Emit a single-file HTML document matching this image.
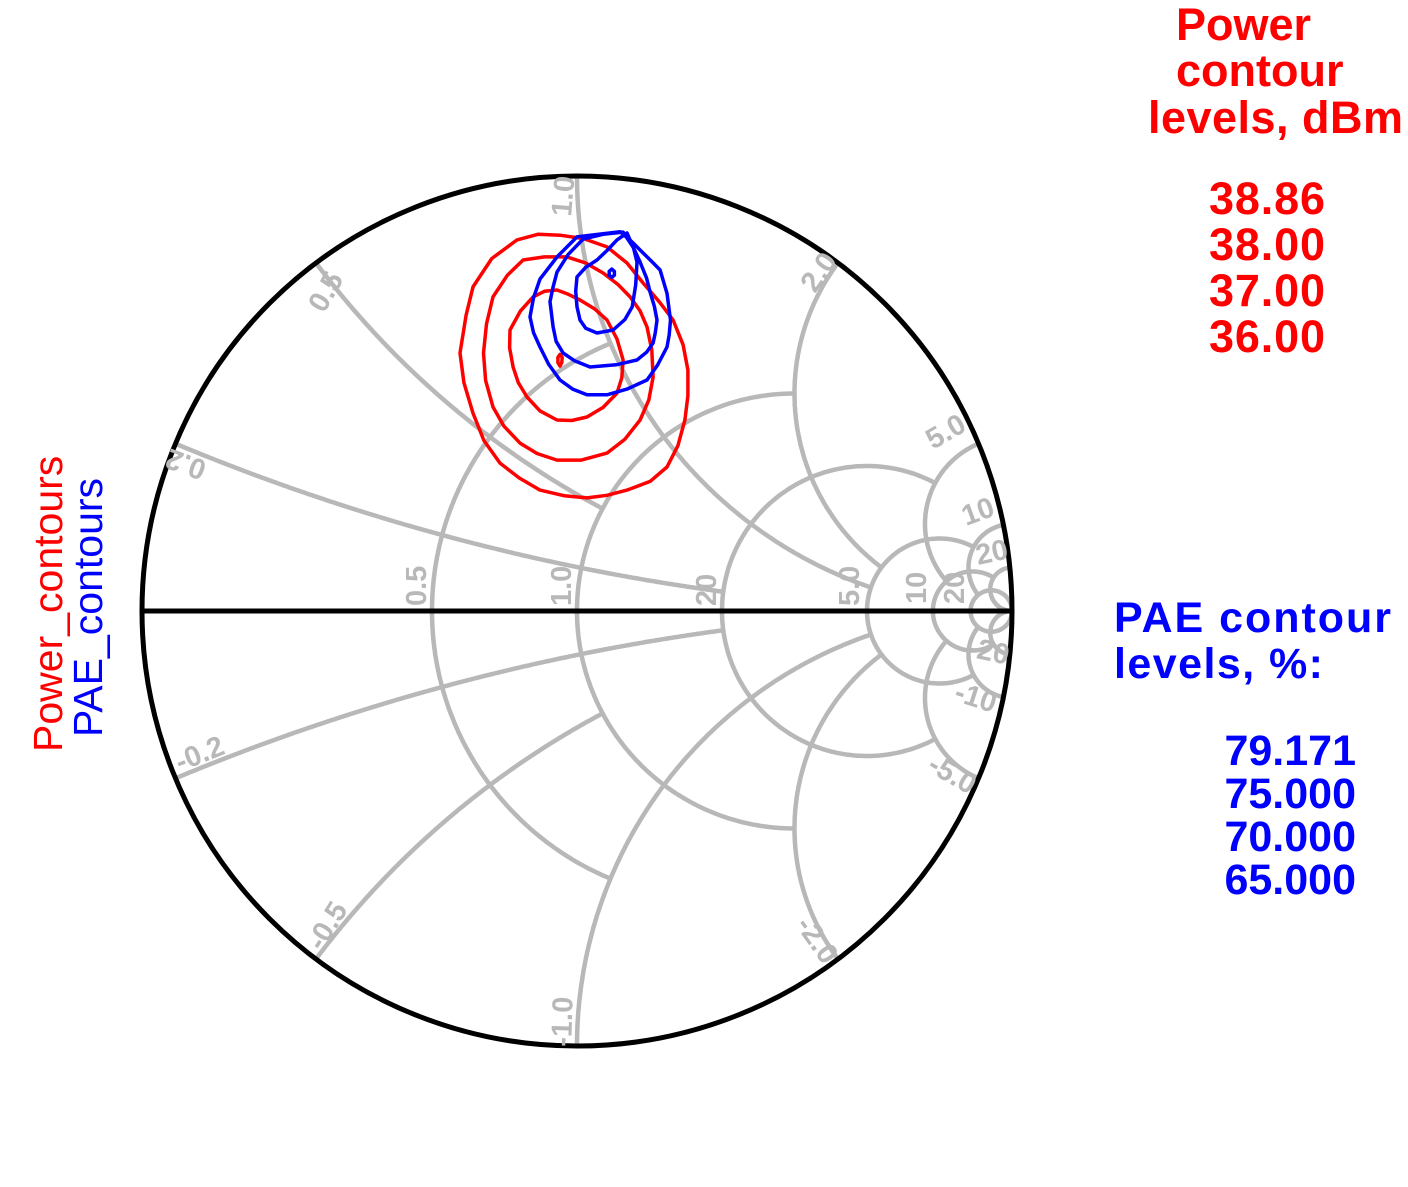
<!DOCTYPE html>
<html><head><meta charset="utf-8"><style>
html,body{margin:0;padding:0;background:#fff;}
svg{display:block;}
text{font-family:"Liberation Sans",Arial,sans-serif;}
</style></head><body>
<svg id="chart" width="1408" height="1187" viewBox="0 0 1408 1187" xmlns="http://www.w3.org/2000/svg">
<g id="grid"></g>
<g id="contours"></g>
<g id="labels" fill="#b8b8b8" font-weight="bold" font-size="29">
<text transform="translate(426,606) rotate(-90)">0.5</text>
<text transform="translate(571,606) rotate(-90)">1.0</text>
<text transform="translate(716,606) rotate(-90)">20</text>
<text transform="translate(859,606) rotate(-90)">5.0</text>
<text transform="translate(926,604) rotate(-90)">10</text>
<text transform="translate(964,604) rotate(-90)">20</text>
<text transform="translate(571,217) rotate(-85)">1.0</text>
<text transform="translate(324,314) rotate(-60)">0.5</text>
<text transform="translate(815,294) rotate(-55)">2.0</text>
<text transform="translate(933,450) rotate(-30)">5.0</text>
<text transform="translate(966,526) rotate(-20)">10</text>
<text transform="translate(978,565) rotate(-12)">20</text>
<text transform="translate(208,462) rotate(200)">0.2</text>
<text transform="translate(180,772) rotate(-22)">-0.2</text>
<text transform="translate(322,952) rotate(-58)">-0.5</text>
<text transform="translate(571,1047) rotate(-88)">-1.0</text>
<text transform="translate(795,925) rotate(55)">-2.0</text>
<text transform="translate(926,770) rotate(30)">-5.0</text>
<text transform="translate(953,700) rotate(18)">-10</text>
<text transform="translate(966,656) rotate(12)">-20</text>
</g>
<g font-size="41">
<text fill="#ff0000" transform="translate(62,752) rotate(-90)">Power_contours</text>
<text fill="#0000ff" transform="translate(102,737) rotate(-90)">PAE_contours</text>
</g>
<g fill="#ff0000" font-weight="bold" font-size="45">
<text x="1176" y="40">Power</text>
<text x="1176" y="86">contour</text>
<text x="1148" y="133" textLength="255">levels, dBm</text>
<text x="1209" y="214" textLength="116">38.86</text>
<text x="1209" y="260" textLength="116">38.00</text>
<text x="1209" y="306" textLength="116">37.00</text>
<text x="1209" y="352" textLength="116">36.00</text>
</g>
<g fill="#0000ff" font-weight="bold" font-size="43">
<text x="1114" y="632" textLength="277">PAE contour</text>
<text x="1114" y="678" textLength="209">levels, %:</text>
<text x="1356" y="765" text-anchor="end">79.171</text>
<text x="1356" y="808" text-anchor="end">75.000</text>
<text x="1356" y="851" text-anchor="end">70.000</text>
<text x="1356" y="894" text-anchor="end">65.000</text>
</g>
</svg>
<script>
// Chart geometry
const CX = 577, CY = 611, R = 435;
// Grid values
const rValues = [0.5, 1, 2, 5, 10, 20];
const rLimits = [1, 2, 5, 10, 20, 1000];
const xValues = [0.2, 0.5, 1, 2, 5, 10, 20];
const xLimits = [2, 1, 5, 5, 10, 20, 1000];
// Contour data (reflection coefficient, re/im)
const power36Re = [-0.269,-0.255,-0.239,-0.196,-0.138,-0.090,-0.039,0.015,0.069,0.115,0.152,0.190,0.221,0.244,0.255,0.255,0.248,0.232,0.207,0.168,0.115,0.069,0.023,-0.030,-0.085,-0.133,-0.177,-0.214,-0.239,-0.260];
const power36Im = [0.593,0.680,0.745,0.810,0.853,0.866,0.864,0.856,0.837,0.800,0.754,0.710,0.669,0.612,0.554,0.495,0.439,0.380,0.331,0.298,0.278,0.266,0.260,0.265,0.278,0.306,0.340,0.392,0.455,0.525];
const power37Re = [-0.215,-0.208,-0.193,-0.160,-0.124,-0.075,-0.023,0.020,0.060,0.095,0.122,0.145,0.161,0.172,0.175,0.165,0.145,0.110,0.069,0.010,-0.046,-0.092,-0.131,-0.168,-0.193,-0.210];
const power37Im = [0.593,0.660,0.722,0.772,0.807,0.814,0.814,0.800,0.777,0.750,0.722,0.690,0.653,0.600,0.538,0.485,0.439,0.395,0.363,0.347,0.347,0.362,0.386,0.425,0.469,0.530];
const power38Re = [-0.154,-0.130,-0.101,-0.075,-0.046,-0.020,0.007,0.040,0.069,0.092,0.106,0.103,0.092,0.060,0.023,-0.012,-0.046,-0.085,-0.115,-0.135,-0.147,-0.155];
const power38Im = [0.646,0.690,0.722,0.735,0.738,0.728,0.715,0.695,0.669,0.625,0.577,0.536,0.501,0.468,0.446,0.438,0.439,0.460,0.492,0.525,0.561,0.605];
const power3886Re = [-0.039,-0.034,-0.035,-0.039,-0.044,-0.044];
const power3886Im = [0.590,0.583,0.571,0.563,0.571,0.583];
const pae65Re = [-0.108,-0.100,-0.085,-0.045,0.000,0.050,0.099,0.125,0.145,0.170,0.191,0.207,0.215,0.212,0.207,0.185,0.161,0.115,0.069,0.023,-0.010,-0.039,-0.065,-0.085,-0.100];
const pae65Im = [0.676,0.720,0.763,0.815,0.860,0.866,0.872,0.850,0.830,0.805,0.784,0.730,0.669,0.635,0.607,0.565,0.531,0.510,0.497,0.497,0.510,0.531,0.567,0.607,0.640];
const pae70Re = [-0.062,-0.055,-0.046,-0.020,0.014,0.060,0.106,0.130,0.145,0.160,0.168,0.178,0.184,0.180,0.175,0.160,0.138,0.090,0.030,-0.005,-0.032,-0.048,-0.055];
const pae70Im = [0.711,0.745,0.779,0.820,0.855,0.866,0.871,0.835,0.802,0.765,0.733,0.700,0.669,0.640,0.616,0.595,0.577,0.566,0.561,0.575,0.593,0.620,0.653];
const pae75Re = [0.000,-0.003,0.000,0.020,0.046,0.070,0.092,0.115,0.130,0.138,0.135,0.127,0.110,0.083,0.046,0.020,0.007];
const pae75Im = [0.699,0.735,0.768,0.790,0.807,0.830,0.853,0.869,0.835,0.802,0.750,0.699,0.670,0.646,0.639,0.650,0.669];
const pae79Re = [0.080,0.086,0.086,0.080,0.074,0.074];
const pae79Im = [0.786,0.781,0.772,0.767,0.772,0.781];

function sx(re){ return CX + re * R; }
function sy(im){ return CY - im * R; }
function z2g(r, x){ // gamma = (z-1)/(z+1)
  const nr = r - 1, ni = x, dr = r + 1, di = x;
  const d = dr*dr + di*di;
  return [(nr*dr + ni*di)/d, (ni*dr - nr*di)/d];
}
const NS = 'http://www.w3.org/2000/svg';
const grid = document.getElementById('grid');
function poly(parent, pts, stroke, w, closed){
  const el = document.createElementNS(NS, closed ? 'polygon' : 'polyline');
  el.setAttribute('points', pts.map(p => sx(p[0]).toFixed(1)+','+sy(p[1]).toFixed(1)).join(' '));
  el.setAttribute('fill', 'none');
  el.setAttribute('stroke', stroke);
  el.setAttribute('stroke-width', w);
  el.setAttribute('stroke-linejoin', 'round');
  parent.appendChild(el);
  return el;
}
// resistance arcs
rValues.forEach((r, i) => {
  const lim = rLimits[i], pts = [];
  const N = 400;
  for (let k = 0; k <= N; k++) {
    const t = -1 + 2*k/N;
    const x = Math.sign(t) * Math.pow(Math.abs(t), 3) * lim;
    pts.push(z2g(r, x));
  }
  const el = poly(grid, pts, '#b8b8b8', 4.5, false);
  
  
});
// reactance arcs
xValues.forEach((xv, i) => {
  const lim = xLimits[i];
  [1, -1].forEach(s => {
    const pts = [];
    const N = 300;
    for (let k = 0; k <= N; k++) {
      const r = Math.pow(k/N, 3) * lim;
      pts.push(z2g(r, s*xv));
    }
    const el = poly(grid, pts, '#b8b8b8', 4.5, false);
    
    
  });
});
// outer circle and real axis
const outer = document.createElementNS(NS, 'circle');
outer.setAttribute('cx', CX); outer.setAttribute('cy', CY); outer.setAttribute('r', R);
outer.setAttribute('fill', 'none'); outer.setAttribute('stroke', '#000'); outer.setAttribute('stroke-width', 5);


grid.appendChild(outer);
const axis = document.createElementNS(NS, 'line');
axis.setAttribute('x1', sx(-1)); axis.setAttribute('y1', sy(0));
axis.setAttribute('x2', sx(1)); axis.setAttribute('y2', sy(0));
axis.setAttribute('stroke', '#000'); axis.setAttribute('stroke-width', 5);


grid.appendChild(axis);
// contours
const cg = document.getElementById('contours');
const series = [
  ['power-contour-36', power36Re, power36Im, '#ff0000'],
  ['power-contour-37', power37Re, power37Im, '#ff0000'],
  ['power-contour-38', power38Re, power38Im, '#ff0000'],
  ['power-contour-38.86', power3886Re, power3886Im, '#ff0000'],
  ['pae-contour-65', pae65Re, pae65Im, '#0000ff'],
  ['pae-contour-70', pae70Re, pae70Im, '#0000ff'],
  ['pae-contour-75', pae75Re, pae75Im, '#0000ff'],
  ['pae-contour-79.171', pae79Re, pae79Im, '#0000ff']
];
series.forEach(s => {
  const pts = s[1].map((re, i) => [re, s[2][i]]);
  const el = poly(cg, pts, s[3], 3.5, true);
  
  
});
</script>
</body></html>
